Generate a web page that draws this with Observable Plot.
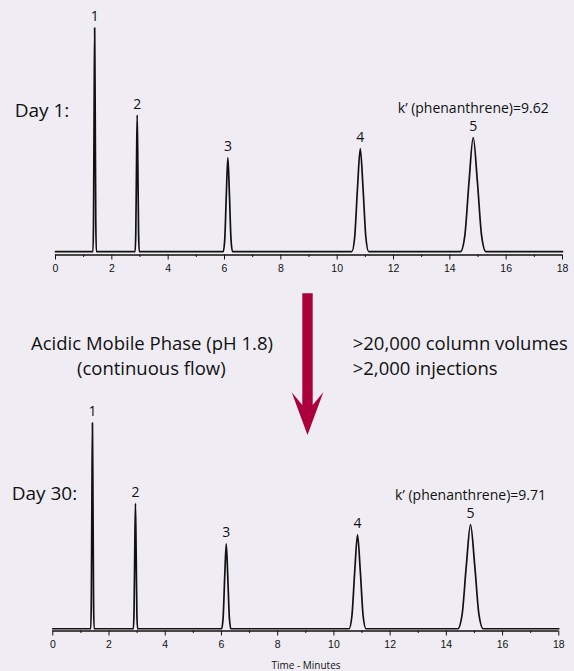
<!DOCTYPE html>
<html><head><meta charset="utf-8">
<script src="https://cdn.jsdelivr.net/npm/d3@7"></script>
<script src="https://cdn.jsdelivr.net/npm/@observablehq/plot@0.6"></script>
<style>
body{margin:0;background:#efedf3;}
#wrap{position:relative;width:574px;height:671px;background:#efedf3;overflow:hidden;font-family:"Open Sans",sans-serif;color:#111;}
#wrap > svg, #wrap > figure{position:absolute;margin:0;}
</style></head><body><div id="wrap"></div>
<script>
// ---------- data ----------
const majorTicks = [0, 2, 4, 6, 8, 10, 12, 14, 16, 18];
const minorTicks = [1, 3, 5, 7, 9, 11, 13, 15, 17];
const peakNumbers = ["1", "2", "3", "4", "5"];

const day1Times = [1.39, 2.90, 6.12, 10.82, 14.83];
const day1Heights = [100, 61, 42, 46, 51];
const day1K = "k\u2019 (phenanthrene)=9.62";
const day1Trace = [
  [0, 0],
  [1.33, 0], [1.35, 14], [1.37, 61], [1.39, 100], [1.41, 61], [1.43, 14], [1.45, 0],
  [2.825, 0], [2.85, 8], [2.875, 37], [2.90, 61], [2.925, 37], [2.95, 8], [2.975, 0],
  [5.955, 0], [6.01, 5.7], [6.065, 25.5], [6.12, 42], [6.175, 25.5], [6.23, 5.7], [6.285, 0],
  [10.52, 0], [10.62, 6.2], [10.72, 28], [10.82, 46], [10.92, 28], [11.02, 6.2], [11.12, 0],
  [14.38, 0], [14.53, 6.9], [14.68, 31], [14.83, 51], [14.98, 31], [15.13, 6.9], [15.28, 0],
  [18, 0]
];

const day30Times = [1.41, 2.94, 6.17, 10.84, 14.86];
const day30Heights = [92, 56, 38, 42, 46.5];
const day30K = "k\u2019 (phenanthrene)=9.71";
const day30Trace = [
  [0, 0],
  [1.35, 0], [1.37, 12.4], [1.39, 56], [1.41, 92], [1.43, 56], [1.45, 12.4], [1.47, 0],
  [2.865, 0], [2.89, 7.6], [2.915, 34], [2.94, 56], [2.965, 34], [2.99, 7.6], [3.015, 0],
  [6.005, 0], [6.06, 5.1], [6.115, 23], [6.17, 38], [6.225, 23], [6.28, 5.1], [6.335, 0],
  [10.54, 0], [10.64, 5.7], [10.74, 25.5], [10.84, 42], [10.94, 25.5], [11.04, 5.7], [11.14, 0],
  [14.41, 0], [14.56, 6.3], [14.71, 28.2], [14.86, 46.5], [15.01, 28.2], [15.16, 6.3], [15.31, 0],
  [18, 0]
];

const dayLabels = ["Day 1:", "Day 30:"];
const conditionLines = ["Acidic Mobile Phase (pH 1.8)", "(continuous flow)"];
const usageLines = [">20,000 column volumes", ">2,000 injections"];
const xAxisTitle = "Time - Minutes";

// ---------- drawing ----------
const wrap = document.getElementById("wrap");
const INK = "#111";

function chromatogram({trace, times, heights, kLabel, height, marginLeft, marginRight, marginTop, marginBottom, yDomain}) {
  const peaks = times.map((t, i) => ({t, h: heights[i], n: peakNumbers[i]}));
  return Plot.plot({
    width: 574,
    height,
    marginLeft, marginRight, marginTop, marginBottom,
    style: {background: "transparent", color: INK, fontFamily: "'Open Sans', sans-serif", overflow: "visible"},
    x: {domain: [0, 18], label: null},
    y: {domain: yDomain, axis: null, label: null},
    marks: [
      Plot.ruleY([yDomain[0]], {stroke: INK, strokeWidth: 1.4}),
      Plot.axisX({ticks: minorTicks, tickSize: 2.5, text: null, label: null, stroke: INK, strokeWidth: 1}),
      Plot.axisX({ticks: majorTicks, tickSize: 5, tickPadding: 5, tickFormat: d => String(d),
        stroke: INK, strokeWidth: 1, fontSize: 10.5, fontFamily: "'Liberation Sans Narrow', 'Liberation Sans', sans-serif", label: null}),
      Plot.line(trace, {x: d => d[0], y: d => d[1], curve: "monotone-x", stroke: INK, strokeWidth: 1.7}),
      Plot.text(peaks, {x: "t", y: "h", text: "n", dy: -11, lineAnchor: "middle", fontSize: 14, fill: INK}),
      Plot.text([peaks[4]], {x: "t", y: "h", text: () => kLabel, dy: -29.5, lineAnchor: "middle", fontSize: 14, fill: INK})
    ]
  });
}

const plotDay1 = chromatogram({
  trace: day1Trace, times: day1Times, heights: day1Heights, kLabel: day1K,
  height: 280, marginLeft: 55, marginRight: 12, marginTop: 5, marginBottom: 25.5, yDomain: [-1.5, 110]
});
plotDay1.style.left = "0px"; plotDay1.style.top = "0px";
wrap.appendChild(plotDay1);

const plotDay30 = chromatogram({
  trace: day30Trace, times: day30Times, heights: day30Heights, kLabel: day30K,
  height: 276, marginLeft: 52.3, marginRight: 15.7, marginTop: 9.5, marginBottom: 40.5, yDomain: [-1, 100]
});
plotDay30.style.left = "0px"; plotDay30.style.top = "395px";
wrap.appendChild(plotDay30);

// annotation overlay (labels and arrow)
const svg = d3.select(wrap).append("svg")
  .attr("width", 574).attr("height", 671)
  .style("left", "0px").style("top", "0px").style("pointer-events", "none")
  .style("font-family", "'Open Sans', sans-serif");

svg.append("polygon")
  .attr("points", [[302.3,293.3],[312.7,293.3],[312.7,405],[323.3,392.3],[307.5,435],[291.7,392.3],[302.3,405]].join(" "))
  .attr("fill", "#ab003c");

const T = (x, y, s, size, anchor = "start") => svg.append("text").attr("x", x).attr("y", y)
  .attr("font-size", size).attr("text-anchor", anchor).attr("fill", INK).text(s);

T(14.7, 116.7, dayLabels[0], 19);
T(11.7, 500, dayLabels[1], 19);
T(152, 350, conditionLines[0], 18.5, "middle");
T(151.3, 375, conditionLines[1], 18.5, "middle");
T(352.7, 350, usageLines[0], 18.5);
T(352.7, 375, usageLines[1], 18.5);
T(306, 668.5, xAxisTitle, 10, "middle");
</script></body></html>
